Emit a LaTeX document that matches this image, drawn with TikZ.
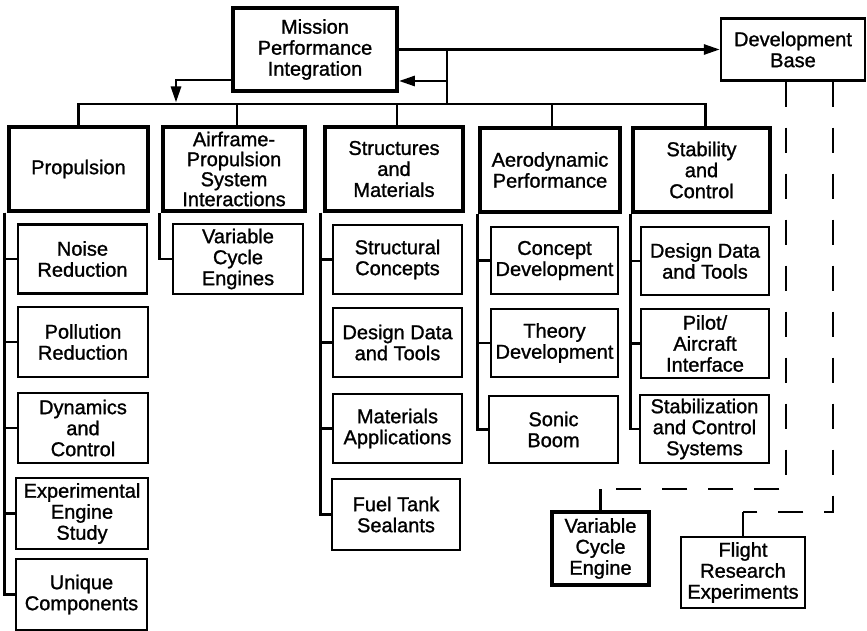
\documentclass[tikz,border=0pt]{standalone}
\usepackage{fontspec}
\setmainfont{Liberation Sans}
\newfontfamily\boxfont{Liberation Sans}[FakeBold=1.2]
\usetikzlibrary{arrows.meta}
\begin{document}
\begin{tikzpicture}[x=1pt,y=-1pt,
  box/.style={draw, line width=2.4pt, inner sep=0pt, align=center,
    font=\boxfont\fontsize{20}{21}\selectfont, minimum width=129pt, minimum height=69pt},
  mainbox/.style={box, line width=3.6pt, minimum width=139pt, minimum height=84pt},
  conn/.style={line width=2.8pt},
  tip/.style={-{Triangle[length=16pt,width=10pt]}},
  dline/.style={line width=2.6pt, dash pattern=on 25pt off 21pt}]
\useasboundingbox (0,0) rectangle (867,631);

% top level
\node[box, line width=3.8pt, minimum width=164pt, minimum height=83pt] (mpi) at (315,49.5) {Mission\\Performance\\Integration};
\node[box, minimum width=144pt, minimum height=62pt] (dev) at (793,49.5) {Development\\Base};

% level 1
\node[mainbox] (prop) at (78.5,169) {Propulsion};
\node[mainbox, minimum width=142pt, font=\boxfont\fontsize{20}{20}\selectfont] (afp) at (234,169) {Airframe-\\Propulsion\\System\\Interactions};
\node[mainbox, minimum width=138pt] (sm) at (394,169) {Structures\\and\\Materials};
\node[mainbox, minimum width=140pt] (aero) at (550,170) {Aerodynamic\\Performance};
\node[mainbox, minimum width=137pt] (stab) at (701.5,170) {Stability\\and\\Control};

% propulsion children
\node[box] (noise) at (82.5,259) {Noise\\Reduction};
\node[box, minimum width=130pt, minimum height=70pt] (poll) at (83,342) {Pollution\\Reduction};
\node[box, minimum width=130pt, minimum height=70pt] (dyn) at (83,428) {Dynamics\\and\\Control};
\node[box, minimum width=132pt, minimum height=71pt] (exp) at (82,513.5) {Experimental\\Engine\\Study};
\node[box, minimum width=131pt, minimum height=71pt] (uniq) at (81.5,594.5) {Unique\\Components};

% airframe child
\node[box, minimum width=130pt, minimum height=70pt] (vce) at (238,259) {Variable\\Cycle\\Engines};

% structures children
\node[box] (sc) at (397.5,259.5) {Structural\\Concepts};
\node[box] (ddt1) at (397.5,342.5) {Design Data\\and Tools};
\node[box] (ma) at (397.5,428.5) {Materials\\Applications};
\node[box, minimum width=128pt, minimum height=71pt] (fts) at (396,514.5) {Fuel Tank\\Sealants};

% aero children
\node[box, minimum width=127pt, minimum height=67pt] (cd) at (554.5,260.5) {Concept\\Development};
\node[box, minimum width=127pt, minimum height=68pt] (td) at (554.5,343) {Theory\\Development};
\node[box, minimum height=67pt] (sb) at (553.5,429.5) {Sonic\\Boom};

% stability children
\node[box, minimum width=128pt, minimum height=68pt] (ddt2) at (705,261) {Design Data\\and Tools};
\node[box, minimum width=128pt] (pai) at (705,343.5) {Pilot/\\Aircraft\\Interface};
\node[box, minimum height=68pt] (scs) at (704.5,429) {Stabilization\\and Control\\Systems};

% development base children
\node[box, line width=3.8pt, minimum width=97pt, minimum height=73pt] (vce2) at (600.5,548.5) {Variable\\Cycle\\Engine};
\node[box, minimum width=124pt, minimum height=71pt] (fre) at (743,572.5) {Flight\\Research\\Experiments};

% helper coordinates
\coordinate (bus) at (0,104);
\coordinate (y80) at (0,80);
\coordinate (y81) at (0,81);
\coordinate (ax) at (176,0);
\coordinate (jx) at (447,0);
\coordinate (dl) at (786,0);
\coordinate (dr) at (833,0);
\coordinate (cl) at (0,489);
\coordinate (cr) at (0,512);

% bus
\draw[conn] (prop.north) -- (prop.north |- bus) -- ([xshift=4pt]stab.north |- bus) -- ([xshift=4pt]stab.north);
\draw[conn] ([xshift=3pt]afp.north) -- ([xshift=3pt]afp.north |- bus);
\draw[conn] ([xshift=3pt]sm.north) -- ([xshift=3pt]sm.north |- bus);
\draw[conn] ([xshift=2pt]aero.north) -- ([xshift=2pt]aero.north |- bus);

% mission connections
\draw[conn, tip] (mpi.west |- y80) -| ([yshift=1.5pt]ax |- bus);
\draw[conn, tip] (mpi.east) -- (dev.west);
\draw[conn] (jx |- mpi.east) -- (jx |- bus);
\draw[conn, tip] (jx |- y81) -- (mpi.east |- y81);

% spines
\foreach \c in {noise,poll,dyn,exp,uniq}
  \draw[conn] ([xshift=-2.5pt]prop.south west) |- (\c.west);
\draw[conn] ([xshift=-1.5pt]afp.south west) |- (vce.west);
\foreach \c in {sc,ddt1,ma,fts}
  \draw[conn] ([xshift=-2.5pt]sm.south west) |- (\c.west);
\foreach \c in {cd,td,sb}
  \draw[conn] ([xshift=-0.5pt]aero.south west) |- (\c.west);
\foreach \c in {ddt2,pai,scs}
  \draw[conn] ([xshift=-0.5pt]stab.south west) |- (\c.west);

% dashed links
\draw[dline] (dl |- dev.south) -- (dl |- cl) -- (vce2.north |- cl);
\draw[conn] (vce2.north |- cl) -- (vce2.north);
\draw[dline] (dr |- dev.south) -- (dr |- cr) -- (fre.north |- cr);
\draw[conn] (fre.north |- cr) -- (fre.north);
\end{tikzpicture}
\end{document}
